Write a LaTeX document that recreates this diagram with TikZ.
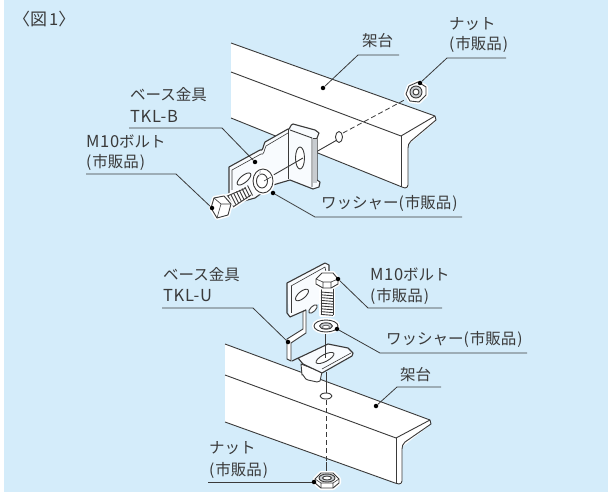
\documentclass[tikz,border=0pt]{standalone}
\usepackage{fontspec}
\setmainfont{Noto Sans CJK JP}
\definecolor{bgblue}{HTML}{D4ECFA}
\definecolor{ink}{HTML}{3A3A3A}
\definecolor{steel}{HTML}{C8CCD0}
\definecolor{plate}{HTML}{F8FBFE}
\newcommand{\Lat}[1]{{\addfontfeature{LetterSpace=4}\fontsize{16.5}{16.5}\selectfont #1}}
\newcommand{\Sh}{(\kern1pt 市販品\kern1pt)}
\tikzset{
 lab/.style={anchor=west,inner sep=0pt,text=ink,font=\fontsize{15.5}{15.5}\selectfont},
 lead/.style={draw=ink,line width=0.8pt},
 pt/.style={circle,fill=black,inner sep=0pt,minimum size=4.5pt},
 edge/.style={draw=ink,line width=0.9pt,line join=round},
 fine/.style={draw=ink,line width=0.6pt,line join=round},
 halo/.style={draw=white,line width=4pt,line join=round},
 hidden/.style={draw=ink,line width=0.8pt,dash pattern=on 5pt off 3pt},
}
\begin{document}
\begin{tikzpicture}[x=1pt,y=-1pt]
\useasboundingbox (0,0) rectangle (608,492);
\fill[bgblue] (4,0) rectangle (608,492);

% ---------- top beam
\path[fill=white] (231,43)--(435,116)--(435,122)--(408,145)--(408,188)--(402,187)--(231,118)--cycle;
\draw[edge] (231,43)--(435,116)--(436,120)--(411,141) to[out=-135,in=90] (408,148)--(408,185) to[out=-90,in=0] (405,188)--(402,187)--(231,118);
\draw[edge] (231,72)--(401,136)--(435,116);
\draw[edge] (401,136)--(401,187);
% hole and axis
\draw[edge,fill=white] (339,137) ellipse (3.5 and 5.5);
\draw[hidden] (343,133)--(410,97);
\draw[edge] (316,152)--(337,140);

% ---------- top nut
\begin{scope}[shift={(416,92)}]
 \path[halo] (-10,2)--(-7,-6)--(2,-10)--(10,-5)--(10,3)--(3,10)--(-6,9)--cycle;
 \draw[edge,fill=white] (-10,2)--(-7,-6)--(2,-10)--(10,-5)--(10,3)--(3,10)--(-6,9)--cycle;
 \draw[edge,fill=steel] (0,0) circle (6);
 \draw[edge,fill=white] (0,0) circle (3);
\end{scope}

% ---------- top bracket
\draw[edge,fill=plate,line width=1.1pt] (229,190)--(229,167)--(260,150) to[out=-30,in=-120] (265,142)--(288,129) to[out=-60,in=180] (293,124)--(315,130)--(319,133)--(317,138)--(317,180)--(320,182)--(319,187)--(313,189)--(290,180)--(273,185)--(255,198)--(229,205)--cycle;
\path[fill=steel] (313,138) rectangle (316.5,183);
\draw[fine] (232,190)--(232,170)--(261,154) to[out=-30,in=-120] (266,146)--(288,133);
\draw[edge] (288,129)--(288,179);
\draw[edge] (290,130)--(312,138)--(312,187);
\draw[fine] (317,138)--(313,138);
\draw[edge,fill=white] (300,158) ellipse (4.5 and 11);
\draw[edge,fill=white,rotate around={40:(244,179)}] (244,179) ellipse (8.5 and 3.5);
\draw[edge] (270,177)--(303,158);

% top bolt
\path[halo] (225,197)--(246,188)--(251,195)--(233,207)--cycle;
\fill[white] (225,197)--(246,188)--(251,195)--(233,207)--cycle;
\foreach \i in {0,...,7}{
 \draw[ink,line width=0.9pt] ({228+\i*2.8},{196-\i*1.5}) -- ({233+\i*2.8},{206-\i*1.5});
}
\draw[edge] (225,197)--(246,188);
\draw[edge] (233,207)--(251,195);
\path[halo] (211,208)--(214,198)--(224,196)--(231,204)--(228,215)--(217,218)--cycle;
\draw[edge,fill=white] (211,208)--(214,198)--(224,196)--(231,204)--(228,215)--(217,218)--cycle;
\draw[fine] (214,198)--(221,204)--(231,204) (221,204)--(217,218);
% top washer
\path[halo] (263,181) ellipse (10 and 12);
\draw[edge,fill=white] (263,181) ellipse (10 and 12);
\draw[edge,fill=white] (262,181) ellipse (5.5 and 7);
\path[fill=steel] (260,177) arc[start angle=140,end angle=240,x radius=4,y radius=5];
\draw[fine] (271,177)--(264,181);

% ---------- bottom beam
\path[fill=white] (225,344)--(430,420)--(430,425)--(402,447)--(402,484)--(395,483)--(225,422)--cycle;
\draw[edge] (225,344)--(430,420)--(431,424)--(405,442) to[out=-135,in=90] (402,449)--(402,481) to[out=-90,in=0] (399,484)--(395,483)--(225,422);
\draw[edge] (225,375)--(396,438)--(430,420);
\draw[edge] (396,438)--(396,483);
% hole and axis
\draw[edge,fill=white] (326,396) ellipse (6 and 3);
\draw[hidden] (326,400)--(326,462);
\draw[edge] (326,462)--(326,474);
\draw[edge] (326,372)--(326,393);

% ---------- bottom bracket
% lip below the flange
\draw[edge,fill=white] (301,364)--(302,375) to[out=80,in=190] (308,380)--(317,382)--(320,381)--(322,372)--cycle;
% upright plate
\path[fill=plate] (287,283)--(325,263)--(329,265)--(329,298)--(306,311)--(289,317)--cycle;
\draw[edge,line width=1.1pt] (329,273)--(329,265)--(325,263)--(287,283)--(287,313)--(290,317)--(306,310);
\draw[fine] (291,286)--(325,267)--(326,272);
\draw[fine] (291,286)--(291,313);
% neck and stem as a folded ribbon
\draw[edge,fill=white] (303,311.5)--(303,329)--(287,339)--(287,359)--(291,361)--(291,343)--(306,333)--(306,310)--cycle;
% horizontal flange
\draw[edge,fill=plate,line width=1.1pt] (292,361)--(328,344)--(348,348)--(353,353)--(352,356)--(322,373)--(303,364)--(298,358)--cycle;
\draw[fine] (322,369)--(351,353);
\draw[edge,fill=white,rotate around={28:(325,358)}] (325,358) ellipse (10 and 3.5);
\draw[edge] (325,334)--(325,358);
\draw[edge,fill=white,rotate around={40:(302,295)}] (302,295) ellipse (8 and 3.5);
\draw[edge,fill=white,rotate around={45:(313,309)}] (313,309) ellipse (5.5 and 2.5);

% bottom bolt
\path[halo] (321,290)--(333,290)--(333,315)--(321,315)--cycle;
\fill[white] (321,288) rectangle (333,315);
\foreach \i in {0,...,8}{
 \draw[ink,line width=0.9pt] (321,{292+\i*2.8}) -- (333,{293+\i*2.8});
}
\draw[edge] (321,288)--(321,315) (333,288)--(333,315);
\path[halo] (316,279)--(322,273)--(333,273)--(338,279)--(338,284)--(331,288)--(323,288)--(316,284)--cycle;
\draw[edge,fill=white] (316,279)--(322,273)--(333,273)--(338,279)--(338,284)--(331,288)--(323,288)--(316,284)--cycle;
\draw[fine] (316,279)--(323,282)--(331,282)--(338,279) (323,282)--(323,288) (331,282)--(331,288);
% bottom washer
\path[halo] (326,326) ellipse (12 and 6);
\draw[edge,fill=white] (326,326) ellipse (12 and 6);
\draw[edge,fill=steel] (326,326) ellipse (6.5 and 3.2);
\draw[fill=white,draw=ink,line width=0.5pt] (326,327) ellipse (3.5 and 1.8);

% ---------- bottom nut
\begin{scope}[shift={(327,480)}]
 \path[halo] (-12,-1)--(-6,-7)--(6,-7)--(12,-1)--(12,3)--(6,8)--(-6,8)--(-12,3)--cycle;
 \draw[edge,fill=white] (-12,-1)--(-6,-7)--(6,-7)--(12,-1)--(12,3)--(6,8)--(-6,8)--(-12,3)--cycle;
 \draw[fine] (-12,-1)--(-6,3)--(6,3)--(12,-1) (-6,3)--(-6,8) (6,3)--(6,8);
 \draw[edge,fill=steel] (0,-2) ellipse (8 and 4);
 \draw[edge,fill=white] (0,-2) ellipse (4.5 and 2);
\end{scope}

% ---------- texts
\node[lab,font=\fontsize{17}{17}\selectfont] (fig) at (13,19) {〈図\kern2pt\Lat{1}〉};
\node[lab] (t1) at (362,41) {架台};
\node[lab] (t2a) at (449,24) {ナット};
\node[lab] (t2b) at (449,44) {\Sh};
\node[lab] (t3a) at (130,95) {ベース金具};
\node[lab] (t3b) at (130,116) {\Lat{TKL-B}};
\node[lab] (t4a) at (86,141) {\Lat{M10}ボルト};
\node[lab] (t4b) at (86,162) {\Sh};
\node[lab] (t5) at (321,203) {ワッシャー\Sh};
\node[lab] (b1a) at (163,275) {ベース金具};
\node[lab] (b1b) at (163,296) {\Lat{TKL-U}};
\node[lab] (b2a) at (370,274) {\Lat{M10}ボルト};
\node[lab] (b2b) at (370,296) {\Sh};
\node[lab] (b3) at (386,339) {ワッシャー\Sh};
\node[lab] (b4) at (400,375) {架台};
\node[lab] (b5a) at (209,448) {ナット};
\node[lab] (b5b) at (209,470) {\Sh};

% ---------- leaders
\node[pt] (d1) at (323,88) {};
\node[pt] (d2) at (420,83) {};
\node[pt] (d3) at (255,162) {};
\node[pt] (d4) at (212,208) {};
\node[pt] (d5) at (273,193) {};
\node[pt] (e1) at (288,342) {};
\node[pt] (e2) at (338,279) {};
\node[pt] (e3) at (337,329) {};
\node[pt] (e4) at (376,406) {};
\node[pt] (e5) at (314,482) {};
\coordinate (k1) at (358,55); \coordinate (f1) at (399,55);
\coordinate (k2) at (447,58); \coordinate (f2) at (506,58);
\coordinate (k3) at (222,128); \coordinate (f3) at (129,128);
\coordinate (k4) at (176,174); \coordinate (f4) at (86,174);
\coordinate (k5) at (315,217); \coordinate (f5) at (462,217);
\coordinate (l1) at (253,308); \coordinate (g1) at (162,308);
\coordinate (l2) at (368,308); \coordinate (g2) at (442,308);
\coordinate (l3) at (380,353); \coordinate (g3) at (527,353);
\coordinate (l4) at (397,387); \coordinate (g4) at (441,387);
\coordinate (g5) at (208,482);
\draw[lead] (d1)--(k1)--(f1);
\draw[lead] (d2)--(k2)--(f2);
\draw[lead] (d3)--(k3)--(f3);
\draw[lead] (d4)--(k4)--(f4);
\draw[lead] (d5)--(k5)--(f5);
\draw[lead] (e1)--(l1)--(g1);
\draw[lead] (e2)--(l2)--(g2);
\draw[lead] (e3)--(l3)--(g3);
\draw[lead] (e4)--(l4)--(g4);
\draw[lead] (e5)--(g5);
\end{tikzpicture}
\end{document}
